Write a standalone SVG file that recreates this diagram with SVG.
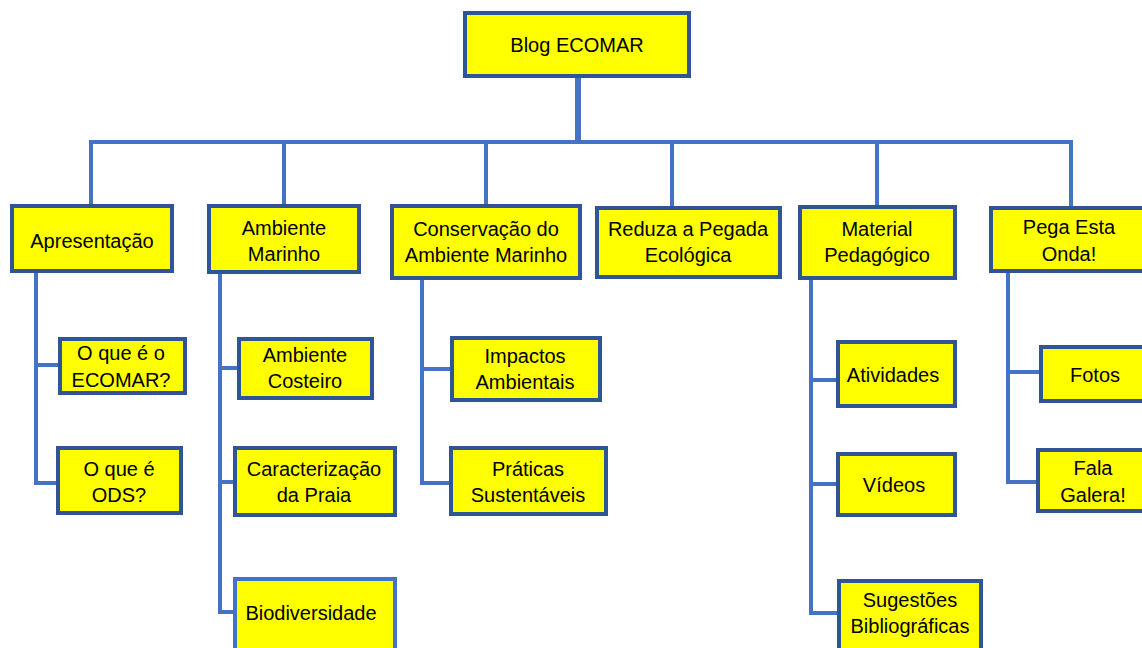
<svg xmlns="http://www.w3.org/2000/svg" width="1142" height="648" viewBox="0 0 1142 648">
<style>
.box{fill:#FFFF00;stroke:#2F5597;stroke-width:4}
.box2{fill:#FFFF00;stroke:#4472C4;stroke-width:4}
.c{fill:none;stroke:#4472C4;stroke-width:4}
text{font-family:"Liberation Sans",Arial,sans-serif;font-size:20px;fill:#000;text-anchor:middle}
</style>
<rect width="1142" height="648" fill="#fff"/>
<g id="connectors">
<path class="c" d="M578,78 V144" style="stroke-width:6"/>
<path class="c" d="M89,142 H1073"/>
<path class="c" d="M91,140 V204 M284,140 V204 M486,140 V204 M672,140 V206 M877,140 V205 M1071,140 V206"/>
<path class="c" d="M36,273 V483 H56 M36,365 H58"/>
<path class="c" d="M220,274 V612 H233 M220,368 H237 M220,482 H233"/>
<path class="c" d="M422,280 V483 H449 M422,369 H450"/>
<path class="c" d="M811,280 V613 H837 M811,380 H836 M811,484 H836"/>
<path class="c" d="M1008,273 V482 H1036 M1008,372 H1039"/>
</g>
<g id="root"><rect class="box" x="465" y="13" width="224" height="63"/><text x="577" y="52">Blog ECOMAR</text></g>
<g id="apresentacao"><rect class="box" x="12" y="206" width="160" height="65"/><text x="92" y="248">Apresentação</text></g>
<g id="ambiente-marinho"><rect class="box" x="209" y="206" width="150" height="66"/><text x="284" y="235">Ambiente</text><text x="284" y="261">Marinho</text></g>
<g id="conservacao"><rect class="box" x="392" y="206" width="188" height="72"/><text x="486" y="236">Conservação do</text><text x="486" y="262">Ambiente Marinho</text></g>
<g id="reduza"><rect class="box" x="597" y="208" width="183" height="69"/><text x="688" y="236">Reduza a Pegada</text><text x="688" y="262">Ecológica</text></g>
<g id="material"><rect class="box" x="800" y="207" width="155" height="71"/><text x="877" y="236">Material</text><text x="877" y="262">Pedagógico</text></g>
<g id="pega"><rect class="box" x="991" y="208" width="160" height="63"/><text x="1069" y="234">Pega Esta</text><text x="1069" y="261">Onda!</text></g>
<g id="oque-ecomar"><rect class="box" x="60" y="339" width="125" height="54"/><text x="121" y="360">O que é o</text><text x="121" y="387">ECOMAR?</text></g>
<g id="oque-ods"><rect class="box" x="58" y="448" width="123" height="65"/><text x="119" y="476">O que é</text><text x="119" y="502">ODS?</text></g>
<g id="ambiente-costeiro"><rect class="box" x="239" y="339" width="133" height="59"/><text x="305" y="362">Ambiente</text><text x="305" y="388">Costeiro</text></g>
<g id="caracterizacao"><rect class="box" x="235" y="448" width="160" height="67"/><text x="314" y="476">Caracterização</text><text x="314" y="502">da Praia</text></g>
<g id="biodiversidade"><rect class="box2" x="235" y="579" width="160" height="80"/><text x="311" y="620">Biodiversidade</text></g>
<g id="impactos"><rect class="box" x="452" y="338" width="148" height="62"/><text x="525" y="363">Impactos</text><text x="525" y="389">Ambientais</text></g>
<g id="praticas"><rect class="box" x="451" y="448" width="155" height="66"/><text x="528" y="476">Práticas</text><text x="528" y="502">Sustentáveis</text></g>
<g id="atividades"><rect class="box" x="838" y="342" width="117" height="64"/><text x="893" y="382">Atividades</text></g>
<g id="videos"><rect class="box" x="838" y="454" width="117" height="61"/><text x="894" y="492">Vídeos</text></g>
<g id="sugestoes"><rect class="box" x="839" y="581" width="142" height="80"/><text x="910" y="607">Sugestões</text><text x="910" y="633">Bibliográficas</text></g>
<g id="fotos"><rect class="box" x="1041" y="347" width="120" height="54"/><text x="1095" y="382">Fotos</text></g>
<g id="fala-galera"><rect class="box" x="1038" y="450" width="120" height="61"/><text x="1093" y="475">Fala</text><text x="1093" y="502">Galera!</text></g>
</svg>
